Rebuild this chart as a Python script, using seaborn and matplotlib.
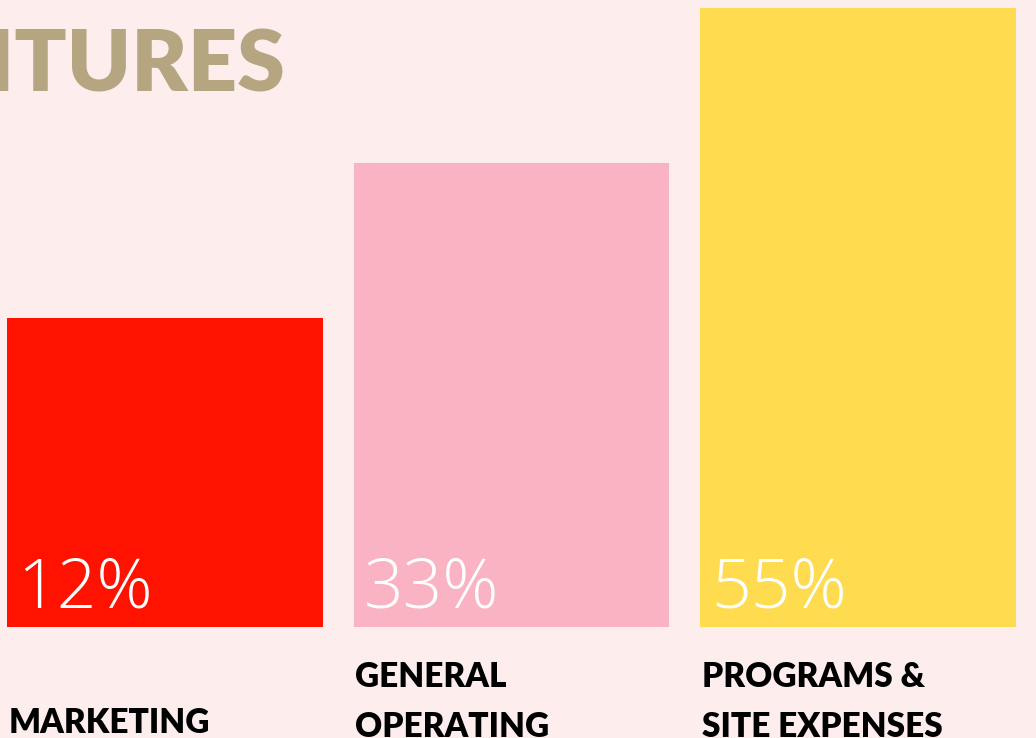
import matplotlib
matplotlib.use("Agg")
import matplotlib.pyplot as plt
import seaborn as sns
import pandas as pd

categories = ["MARKETING", "GENERAL\nOPERATING", "PROGRAMS &\nSITE EXPENSES"]
percent_labels = ["12%", "33%", "55%"]
bar_heights = [50, 75, 100]   # stylised bar heights
colors = ["#FF1200", "#F9B3C2", "#FEDB4F"]
title = "EXPENDITURES"

bg = "#FDEDED"
sns.set_theme(style="white")
plt.rcParams["font.family"] = ["Lato", "DejaVu Sans"]

df = pd.DataFrame({"category": categories, "height": bar_heights})

fig = plt.figure(figsize=(10.36, 7.38), dpi=100, facecolor=bg)
ax = fig.add_axes([0, 0.150, 1, 0.839])
ax.set_facecolor(bg)
sns.barplot(data=df, x="category", y="height", hue="category",
            palette=colors, width=0.91, ax=ax, legend=False,
            saturation=1, linewidth=0)
ax.set_ylim(0, 100)
ax.set_xlim(-0.476, 2.514)
ax.axis("off")

for p, lab in zip(ax.patches, percent_labels):
    ax.text(p.get_x() + 0.03, 3.2, lab, color="white", fontsize=50,
            fontweight=300, ha="left", va="baseline",
            family=["Open Sans", "DejaVu Sans"])

inv = fig.transFigure.inverted()
for p, cat in zip(ax.patches, categories):
    lines = cat.split("\n")
    xf = inv.transform(ax.transData.transform((p.get_x() + 0.005, 0)))[0]
    start = 1 - 733 / 738 if len(lines) == 1 else 1 - 687 / 738
    for i, line in enumerate(lines):
        fig.text(xf, start - i * 50 / 738, line, color="black", fontsize=24,
                 fontweight="heavy", ha="left", va="baseline")

fig.text(286 / 1036, 1 - 91 / 738, title, color="#B5A580", fontsize=62,
         fontweight="heavy", ha="right", va="baseline")

fig.savefig("out.png", dpi=100, facecolor=bg)
